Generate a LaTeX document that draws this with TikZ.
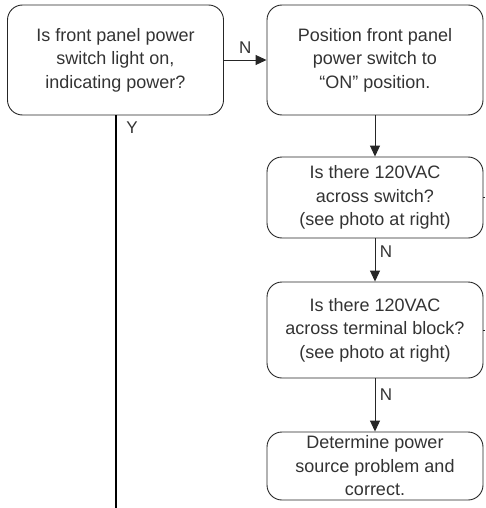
\documentclass[tikz,border=0pt]{standalone}
\usepackage{fontspec}
\setmainfont{Liberation Sans}
\usetikzlibrary{arrows.meta}

\tikzset{
  stepbox/.style={draw=black!85, line width=0.9pt, rounded corners=15pt, align=center,
    minimum width=216pt, inner sep=0pt, text=black!80,
    font=\fontsize{18}{23.5}\selectfont},
  flow/.style={draw=black!85, line width=0.9pt, -{Triangle[length=11pt,width=10pt]}},
  lbl/.style={text=black!80, font=\fontsize{17}{19}\selectfont}
}

\begin{document}
\begin{tikzpicture}[x=1pt,y=-1pt]
\useasboundingbox (0,0) rectangle (485,508);
% boxes
\node[stepbox, minimum height=110pt] (light) at (115.5,60) {Is front panel power\\switch light on,\\indicating power?};
\node[stepbox, minimum height=110pt] (pos) at (375,60) {Position front panel\\power switch to\\``ON'' position.};
\node[stepbox, minimum height=81pt] (sw) at (375,197.5) {Is there 120VAC\\across switch?\\(see photo at right)};
\node[stepbox, minimum height=96pt] (tb) at (375,330) {Is there 120VAC\\across terminal block?\\(see photo at right)};
\node[stepbox, minimum height=68pt] (src) at (375,466) {Determine power\\source problem and\\correct.};
\coordinate (yend) at (115.5,508);
\coordinate (swout) at (485,197.5);
\coordinate (tbout) at (485,330);
% connectors
\draw[flow] (light) -- node[lbl, above=3pt] (n1) {N} (pos);
\draw[flow] (pos) -- (sw);
\draw[flow] (sw) -- node[lbl, right=1pt, pos=0.3] (n2) {N} (tb);
\draw[flow] (tb) -- node[lbl, right=1pt, pos=0.3] (n3) {N} (src);
\draw[line width=2pt] (light) -- (yend);
\node[lbl] (y) at (132,128) {Y};
\draw[draw=black!85, line width=0.6pt] (sw) -- (swout);
\draw[draw=black!85, line width=0.6pt] (tb) -- (tbout);
\end{tikzpicture}
\end{document}
